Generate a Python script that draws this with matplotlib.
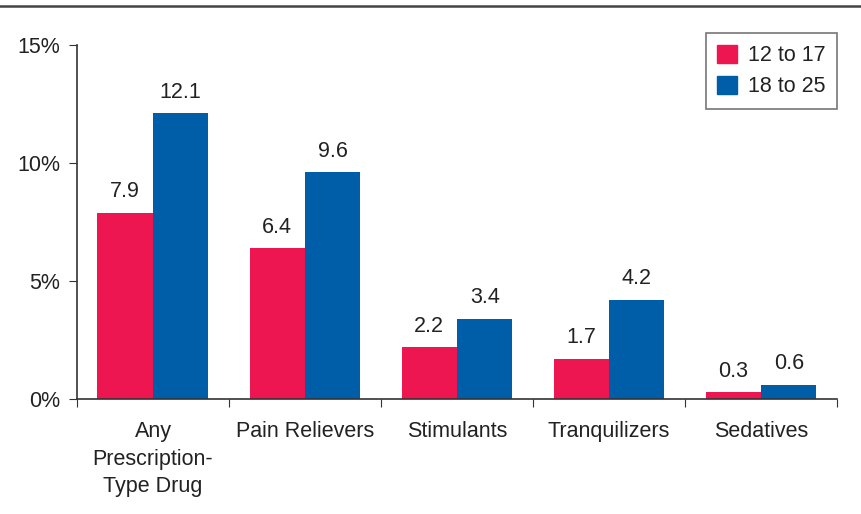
import numpy as np
import matplotlib
matplotlib.use("Agg")
import matplotlib.pyplot as plt
from matplotlib.lines import Line2D
from matplotlib.patches import Patch

plt.rcParams['font.family'] = ['Liberation Sans', 'DejaVu Sans']

categories = ['Any\nPrescription-\nType Drug', 'Pain Relievers', 'Stimulants',
              'Tranquilizers', 'Sedatives']
age_12_17 = [7.9, 6.4, 2.2, 1.7, 0.3]
age_18_25 = [12.1, 9.6, 3.4, 4.2, 0.6]
series_names = ['12 to 17', '18 to 25']
yticks = [0, 5, 10, 15]
ytick_labels = ['0%', '5%', '10%', '15%']

red = '#EE1651'
blue = '#005DA8'
txt = '#222222'
fs = 15.5

fig = plt.figure(figsize=(8.62, 5.14), dpi=100)
ax = fig.add_axes([0.0893, 0.2237, 0.8817, 0.6888])

x = np.arange(len(categories))
w = 0.365
b1 = ax.bar(x - w / 2, age_12_17, w, color=red, label=series_names[0])
b2 = ax.bar(x + w / 2, age_18_25, w, color=blue, label=series_names[1])

for bars, vals in ((b1, age_12_17), (b2, age_18_25)):
    for r, v in zip(bars, vals):
        ax.annotate(f'{v:.1f}', (r.get_x() + r.get_width() / 2, v),
                    xytext=(0, 7.5), textcoords='offset points',
                    ha='center', va='bottom', fontsize=fs, color=txt)

ax.set_xlim(-0.5, len(categories) - 0.5)
ax.set_ylim(0, 15)
ax.set_yticks(yticks)
ax.set_yticklabels(ytick_labels, fontsize=fs, color=txt)
ax.set_xticks(np.arange(len(categories) + 1) - 0.5)
ax.set_xticklabels([])
ax.set_xticks(x, minor=True)
ax.set_xticklabels(categories, minor=True, fontsize=fs, color=txt, linespacing=1.4,
                   va='top')
ax.tick_params(axis='x', which='minor', length=0, pad=16)
ax.tick_params(axis='x', which='major', length=6, direction='out', color='#333333')
ax.tick_params(axis='y', length=6, direction='out', color='#333333', pad=6)

for s in ('top', 'right'):
    ax.spines[s].set_visible(False)
for s in ('left', 'bottom'):
    ax.spines[s].set_color('#333333')
    ax.spines[s].set_linewidth(1.2)

handles = [Patch(color=red), Patch(color=blue)]
leg = ax.legend(handles, series_names, loc='upper right', bbox_to_anchor=(1.0, 1.034),
                borderaxespad=0, fontsize=fs, frameon=True, fancybox=False,
                handlelength=0.9, handleheight=0.9, handletextpad=0.5,
                borderpad=0.55, labelspacing=0.45)
leg.get_frame().set_edgecolor('#555555')
leg.get_frame().set_linewidth(1.2)
for t in leg.get_texts():
    t.set_color(txt)

fig.add_artist(Line2D([0, 1], [1 - 6 / 514, 1 - 6 / 514], color='#444444', linewidth=1.8,
                      transform=fig.transFigure))

fig.savefig('out.png', dpi=100)
